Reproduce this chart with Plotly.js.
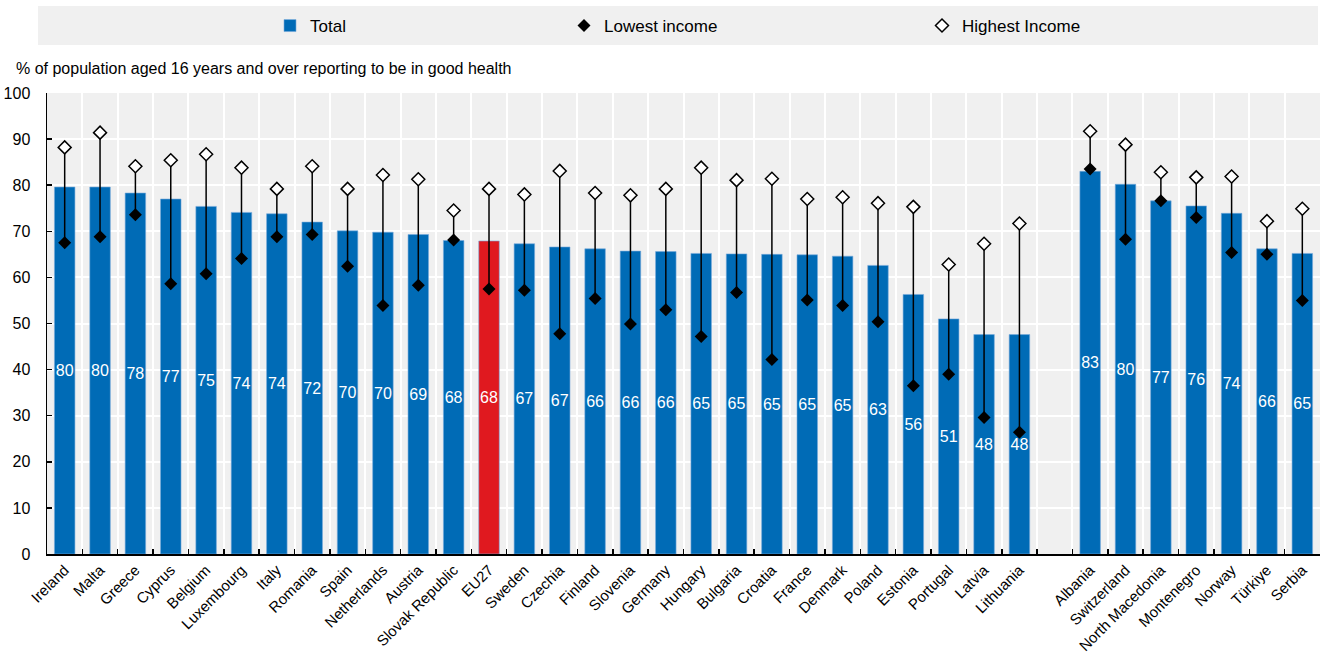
<!DOCTYPE html>
<html>
<head>
<meta charset="utf-8">
<script src="https://cdn.plot.ly/plotly-3.0.1.min.js"></script>
<style>html,body{margin:0;padding:0;background:#fff;}#chart{width:1320px;height:657px;}</style>
</head>
<body>
<div id="chart"></div>
<script>
// EU countries (sorted) and EU27 average
var euCountries = ["Ireland","Malta","Greece","Cyprus","Belgium","Luxembourg","Italy","Romania","Spain","Netherlands","Austria","Slovak Republic","EU27","Sweden","Czechia","Finland","Slovenia","Germany","Hungary","Bulgaria","Croatia","France","Denmark","Poland","Estonia","Portugal","Latvia","Lithuania"];
var euTotal  = [79.6,79.6,78.3,77.0,75.4,74.1,73.8,72.0,70.1,69.8,69.3,68.0,67.9,67.3,66.6,66.2,65.7,65.6,65.2,65.1,65.0,64.9,64.6,62.6,56.3,51.0,47.6,47.6];
var euLow    = [67.5,68.8,73.6,58.6,60.8,64.1,68.8,69.3,62.4,53.9,58.3,68.1,57.5,57.2,47.8,55.4,49.9,53.0,47.2,56.7,42.2,55.1,53.9,50.4,36.5,39.0,29.6,26.4];
var euHigh   = [88.2,91.4,84.1,85.4,86.7,83.8,79.2,84.1,79.2,82.2,81.3,74.5,79.2,78.0,83.1,78.3,77.8,79.2,83.8,81.1,81.4,77.0,77.4,76.1,75.3,62.8,67.3,71.7];

// Other European countries
var otherCountries = ["Albania","Switzerland","North Macedonia","Montenegro","Norway","Türkiye","Serbia"];
var otherTotal = [83.0,80.2,76.6,75.5,73.9,66.2,65.2];
var otherLow   = [83.5,68.3,76.6,73.0,65.4,65.0,55.0];
var otherHigh  = [91.7,88.8,82.8,81.7,81.9,72.2,74.9];

var gapLabel = " ";
var highlight = "EU27";

var cats  = euCountries.concat([gapLabel], otherCountries);
var total = euTotal.concat([null], otherTotal);
var low   = euLow.concat([null], otherLow);
var high  = euHigh.concat([null], otherHigh);
var rng   = high.map(function(h, i){ return (h === null || low[i] === null) ? null : h - low[i]; });

var BLUE = "#006BB6", RED = "#E0191F";
var barColors = cats.map(function(c){ return c === highlight ? RED : BLUE; });

var FONT = '"Liberation Sans", Arial, sans-serif';

var traces = [
  {
    type: "bar", name: "Total", x: cats, y: total,
    marker: { color: barColors, line: { color: "rgba(120,170,220,0.6)", width: 1 } },
    texttemplate: "%{y:.0f}", textposition: "inside", insidetextanchor: "middle",
    textangle: 0, constraintext: "none",
    textfont: { color: "#ffffff", size: 16, family: FONT },
    hoverinfo: "x+y", legend: "legend"
  },
  {
    type: "scatter", mode: "markers", name: "Lowest income", x: cats, y: low,
    marker: { symbol: "diamond", size: 10, color: "#000000", line: { width: 0 } },
    error_y: { type: "data", symmetric: false, array: rng, arrayminus: rng.map(function(){ return 0; }),
               color: "#000000", thickness: 1.5, width: 0 },
    legend: "legend2"
  },
  {
    type: "scatter", mode: "markers", name: "Highest Income", x: cats, y: high,
    marker: { symbol: "diamond", size: 10, color: "#ffffff", line: { width: 1.5, color: "#000000" } },
    legend: "legend3"
  }
];

var plotTop = 93, plotBottom = 554, plotH = plotBottom - plotTop;
function py(p){ return (plotBottom - p) / plotH; }

var legendCommon = { orientation: "h", bgcolor: "rgba(0,0,0,0)", borderwidth: 0,
  font: { family: FONT, size: 17, color: "#000" }, xref: "container", yref: "container",
  xanchor: "left", yanchor: "middle", y: 1 - 26/657, itemclick: false };

var layout = {
  width: 1320, height: 657,
  margin: { l: 47, r: 0, t: plotTop, b: 657 - plotBottom, pad: 0 },
  paper_bgcolor: "#ffffff", plot_bgcolor: "#F0F0F0",
  font: { family: FONT, size: 16, color: "#000" },
  bargap: 0.42,
  showlegend: true,
  legend:  Object.assign({}, legendCommon, { x: 270/1320 }),
  legend2: Object.assign({}, legendCommon, { x: 564/1320 }),
  legend3: Object.assign({}, legendCommon, { x: 922/1320 }),
  xaxis: {
    type: "category", categoryorder: "array", categoryarray: cats,
    range: [-0.5, cats.length - 0.5], autorange: false,
    tickson: "boundaries", ticks: "inside", ticklen: 5, tickwidth: 1.5, tickcolor: "#000",
    showgrid: true, gridcolor: "#ffffff", gridwidth: 2,
    showline: true, linecolor: "#000", linewidth: 1.5,
    tickangle: -45, tickfont: { family: FONT, size: 15, color: "#000" },
    automargin: false, fixedrange: true
  },
  yaxis: {
    range: [0, 100], autorange: false, dtick: 10, tick0: 0,
    ticks: "inside", ticklen: 5, tickwidth: 1.5, tickcolor: "#000",
    showgrid: true, gridcolor: "#ffffff", gridwidth: 2, zeroline: false,
    showline: true, linecolor: "#000", linewidth: 1.5,
    tickfont: { family: FONT, size: 16, color: "#000" },
    ticklabelstandoff: 12,
    automargin: false, fixedrange: true
  },
  shapes: [{
    type: "rect", xref: "paper", yref: "paper",
    x0: (38 - 47)/1273, x1: (1318 - 47)/1273, y0: py(45), y1: py(6),
    fillcolor: "#F0F0F0", line: { width: 0 }, layer: "below"
  }],
  annotations: [{
    xref: "paper", yref: "paper", x: (14 - 47)/1273, y: py(68),
    xanchor: "left", yanchor: "middle", showarrow: false,
    text: "% of population aged 16 years and over reporting to be in good health",
    font: { family: FONT, size: 16, color: "#000" }
  }]
};

Plotly.newPlot("chart", traces, layout, { displayModeBar: false, staticPlot: true });
</script>
</body>
</html>
